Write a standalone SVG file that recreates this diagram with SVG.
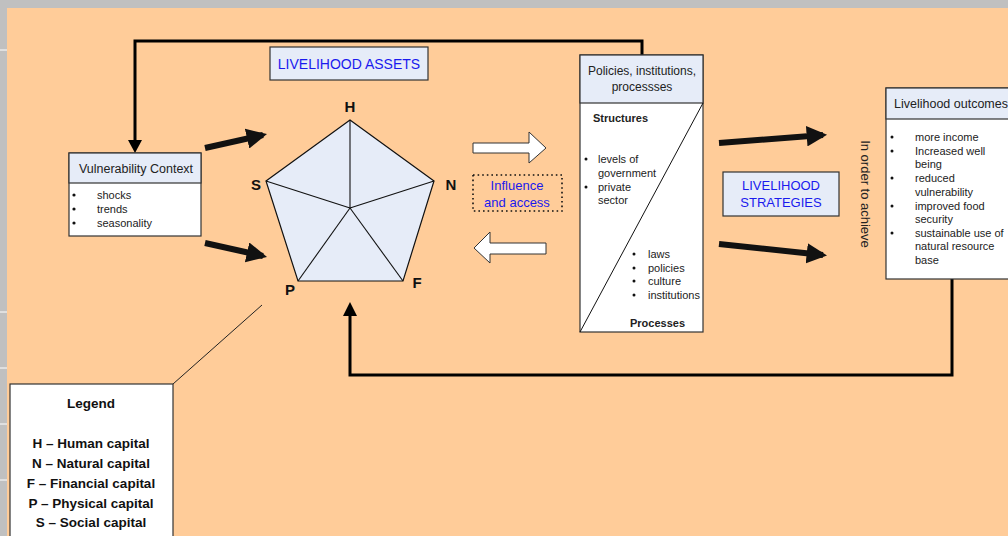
<svg xmlns="http://www.w3.org/2000/svg" width="1008" height="536" viewBox="0 0 1008 536">
<defs>
<style>
.t{font-family:"Liberation Sans",Arial,sans-serif;fill:#222}
.box{stroke:#333;stroke-width:1.2}
.hdr{fill:#E6ECF8}
.blue{fill:#1a1aee;font-family:"Liberation Sans",Arial,sans-serif}
.b{font-weight:bold}
.thick{stroke:#111;stroke-width:6;fill:none}
.fb{stroke:#000;stroke-width:3;fill:none}
</style>
<marker id="ah" viewBox="0 0 10 10" refX="8" refY="5" markerWidth="3.4" markerHeight="3.4" orient="auto" markerUnits="strokeWidth">
<path d="M0,0 L10,5 L0,10 z" fill="#111"/>
</marker>
</defs>
<rect x="0" y="0" width="1008" height="536" fill="#C0C0C0"/>
<rect x="7" y="8" width="1001" height="528" fill="#FFCC99"/>
<g stroke="#fff" stroke-width="1">
<line x1="0" y1="50" x2="7" y2="50"/><line x1="0" y1="312" x2="7" y2="312"/><line x1="0" y1="368" x2="7" y2="368"/><line x1="0" y1="424" x2="7" y2="424"/><line x1="0" y1="480" x2="7" y2="480"/>
</g>

<g id="connectors">
<path class="fb" d="M642,55 L642,41 L135,41 L135,142"/>
<path d="M128,140 L142,140 L135,153 z" fill="#000"/>
<path class="fb" d="M952,279 L952,375 L350,375 L350,316"/>
<path d="M343,316 L357,316 L350,302 z" fill="#000"/>
<line class="thick" x1="205" y1="148" x2="263" y2="135" marker-end="url(#ah)"/>
<line class="thick" x1="205" y1="243" x2="263" y2="256" marker-end="url(#ah)"/>
<line class="thick" x1="719" y1="143" x2="823" y2="135" marker-end="url(#ah)"/>
<line class="thick" x1="719" y1="244" x2="823" y2="255" marker-end="url(#ah)"/>
<path d="M473,143 L529,143 L529,132 L546,148 L529,163 L529,153 L473,153 z" fill="#fff" stroke="#333" stroke-width="1"/>
<path d="M546,243 L490,243 L490,232 L474,248 L490,263 L490,254 L546,254 z" fill="#fff" stroke="#333" stroke-width="1"/>
<line x1="173" y1="384" x2="262" y2="305" stroke="#222" stroke-width="1"/>
</g>

<g id="assets-label">
<rect x="270" y="47" width="158" height="33" class="hdr box"/>
<text x="349" y="69" class="blue" font-size="14" text-anchor="middle">LIVELIHOOD ASSETS</text>
</g>

<g id="vulnerability">
<rect x="69" y="153" width="132" height="83" fill="#fff" class="box"/>
<rect x="69" y="153" width="132" height="30" class="hdr box"/>
<text x="136" y="173" class="t" font-size="12.5" text-anchor="middle">Vulnerability Context</text>
<g class="t" font-size="11">
<circle cx="74" cy="195" r="1.6" fill="#111"/><text x="97" y="199">shocks</text>
<circle cx="74" cy="209" r="1.6" fill="#111"/><text x="97" y="213">trends</text>
<circle cx="74" cy="223" r="1.6" fill="#111"/><text x="97" y="227">seasonality</text>
</g>
</g>

<g id="pentagon">
<polygon points="350,120 434,181 403,281 298,281 266,181" fill="#E6ECF8" stroke="#111" stroke-width="1.2"/>
<g stroke="#111" stroke-width="1.1">
<line x1="350" y1="208" x2="350" y2="120"/><line x1="350" y1="208" x2="434" y2="181"/><line x1="350" y1="208" x2="403" y2="281"/><line x1="350" y1="208" x2="298" y2="281"/><line x1="350" y1="208" x2="266" y2="181"/>
</g>
<g class="t b" font-size="15" text-anchor="middle" style="fill:#111">
<text x="350" y="112">H</text><text x="256" y="190">S</text><text x="451" y="190">N</text><text x="290" y="295">P</text><text x="417" y="288">F</text>
</g>
</g>

<g id="influence">
<rect x="473" y="175" width="89" height="36" fill="none" stroke="#111" stroke-width="1.6" stroke-dasharray="1.6,3"/>
<text x="517" y="190" class="blue" font-size="13" text-anchor="middle">Influence</text>
<text x="517" y="207" class="blue" font-size="13" text-anchor="middle">and access</text>
</g>

<g id="policies">
<rect x="580" y="55" width="123" height="277" fill="#fff" class="box"/>
<rect x="580" y="55" width="123" height="48" class="hdr box"/>
<text x="642" y="75" class="t" font-size="12" text-anchor="middle">Policies, institutions,</text>
<text x="642" y="91" class="t" font-size="12" text-anchor="middle">processses</text>
<line x1="580" y1="332" x2="703" y2="103" stroke="#111" stroke-width="1"/>
<text x="593" y="122" class="t b" font-size="11">Structures</text>
<g class="t" font-size="11">
<circle cx="586" cy="159" r="1.5" fill="#111"/><text x="598" y="163">levels of</text>
<text x="598" y="177">government</text>
<circle cx="586" cy="187" r="1.5" fill="#111"/><text x="598" y="191">private</text>
<text x="598" y="204">sector</text>
<circle cx="634" cy="254" r="1.5" fill="#111"/><text x="648" y="258">laws</text>
<circle cx="634" cy="268" r="1.5" fill="#111"/><text x="648" y="272">policies</text>
<circle cx="634" cy="281" r="1.5" fill="#111"/><text x="648" y="285">culture</text>
<circle cx="634" cy="295" r="1.5" fill="#111"/><text x="648" y="299">institutions</text>
</g>
<text x="630" y="327" class="t b" font-size="11">Processes</text>
</g>

<g id="strategies">
<rect x="723" y="172" width="116" height="44" class="hdr box"/>
<text x="781" y="190" class="blue" font-size="13" text-anchor="middle">LIVELIHOOD</text>
<text x="781" y="207" class="blue" font-size="13" text-anchor="middle">STRATEGIES</text>
</g>

<text class="t" font-size="13" text-anchor="middle" transform="translate(861,194) rotate(90)">In order to achieve</text>

<g id="outcomes">
<rect x="886" y="88" width="130" height="191" fill="#fff" class="box"/>
<rect x="886" y="88" width="130" height="31" class="hdr box"/>
<text x="894" y="108" class="t" font-size="12.5">Livelihood outcomes</text>
<g class="t" font-size="11">
<circle cx="892" cy="137" r="1.5" fill="#111"/><text x="915" y="141">more income</text>
<circle cx="892" cy="151" r="1.5" fill="#111"/><text x="915" y="155">Increased well</text>
<text x="915" y="168">being</text>
<circle cx="892" cy="178" r="1.5" fill="#111"/><text x="915" y="182">reduced</text>
<text x="915" y="196">vulnerability</text>
<circle cx="892" cy="206" r="1.5" fill="#111"/><text x="915" y="210">improved food</text>
<text x="915" y="223">security</text>
<circle cx="892" cy="233" r="1.5" fill="#111"/><text x="915" y="237">sustainable use of</text>
<text x="915" y="250">natural resource</text>
<text x="915" y="264">base</text>
</g>
</g>

<g id="legend">
<rect x="10" y="384" width="163" height="160" fill="#fff" class="box"/>
<g class="t b" font-size="13.5" text-anchor="middle" style="fill:#111">
<text x="91" y="408">Legend</text>
<text x="91" y="448">H – Human capital</text>
<text x="91" y="468">N – Natural capital</text>
<text x="91" y="488">F – Financial capital</text>
<text x="91" y="508">P – Physical capital</text>
<text x="91" y="527">S – Social capital</text>
</g>
</g>
</svg>
